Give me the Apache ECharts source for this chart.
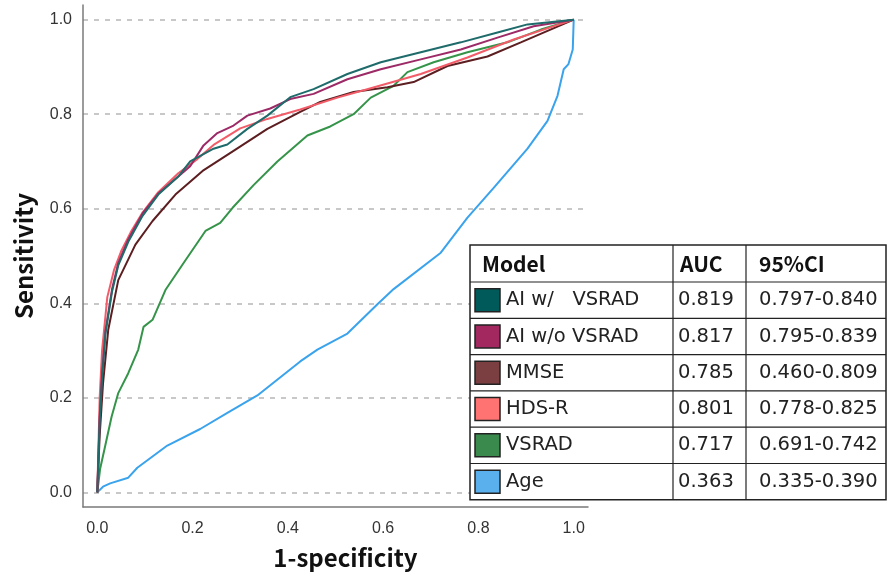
<!DOCTYPE html>
<html>
<head>
<meta charset="UTF-8">
<title>ROC</title>
<script src="https://cdn.jsdelivr.net/npm/echarts@6/dist/echarts.min.js"></script>
<style>
  * {margin: 0; padding: 0;}
  body {background: #fff;}
</style>
</head>
<body>
<div id="chart" style="width:887px;height:575px"></div>
<script type="text/javascript">
// ROC curves
var aiWithX = [0, 0.005, 0.01, 0.017, 0.031, 0.044, 0.065, 0.095, 0.128, 0.17, 0.195, 0.244, 0.273, 0.315, 0.357, 0.405, 0.454, 0.525, 0.595, 0.679, 0.763, 0.84, 0.903, 1];
var aiWithY = [0, 0.15, 0.24, 0.335, 0.425, 0.48, 0.53, 0.585, 0.63, 0.668, 0.70, 0.727, 0.736, 0.769, 0.797, 0.836, 0.853, 0.885, 0.91, 0.931, 0.952, 0.973, 0.99, 1];

var aiWithoutX = [0, 0.005, 0.01, 0.017, 0.031, 0.044, 0.065, 0.095, 0.128, 0.17, 0.195, 0.223, 0.252, 0.286, 0.315, 0.363, 0.405, 0.454, 0.525, 0.595, 0.679, 0.763, 0.84, 0.916, 1];
var aiWithoutY = [0, 0.16, 0.25, 0.34, 0.43, 0.485, 0.535, 0.59, 0.632, 0.668, 0.69, 0.734, 0.76, 0.776, 0.797, 0.812, 0.832, 0.843, 0.874, 0.895, 0.916, 0.937, 0.962, 0.986, 1];

var mmseX = [0, 0.005, 0.012, 0.023, 0.044, 0.08, 0.116, 0.164, 0.221, 0.29, 0.357, 0.426, 0.468, 0.538, 0.609, 0.664, 0.735, 0.819, 0.889, 1];
var mmseY = [0, 0.12, 0.23, 0.344, 0.449, 0.524, 0.574, 0.63, 0.68, 0.725, 0.769, 0.805, 0.826, 0.847, 0.857, 0.868, 0.902, 0.922, 0.952, 1];

var hdsrX = [0, 0.005, 0.01, 0.021, 0.035, 0.05, 0.07, 0.095, 0.128, 0.17, 0.21, 0.244, 0.3, 0.357, 0.426, 0.504, 0.574, 0.679, 0.777, 0.874, 1];
var hdsrY = [0, 0.2, 0.3, 0.413, 0.47, 0.51, 0.55, 0.592, 0.635, 0.675, 0.705, 0.735, 0.77, 0.79, 0.81, 0.835, 0.855, 0.885, 0.92, 0.958, 1];

var vsradX = [0, 0.006, 0.017, 0.03, 0.044, 0.065, 0.086, 0.097, 0.116, 0.143, 0.179, 0.227, 0.258, 0.284, 0.328, 0.378, 0.441, 0.489, 0.538, 0.574, 0.622, 0.651, 0.706, 0.777, 0.861, 0.931, 1];
var vsradY = [0, 0.05, 0.1, 0.16, 0.21, 0.252, 0.302, 0.35, 0.365, 0.428, 0.482, 0.553, 0.57, 0.602, 0.65, 0.70, 0.755, 0.774, 0.8, 0.835, 0.86, 0.889, 0.91, 0.931, 0.952, 0.979, 1];

var ageX = [0, 0.012, 0.027, 0.065, 0.084, 0.147, 0.216, 0.273, 0.336, 0.426, 0.462, 0.525, 0.588, 0.622, 0.721, 0.777, 0.832, 0.903, 0.945, 0.966, 0.979, 0.989, 0.998, 1];
var ageY = [0, 0.012, 0.019, 0.031, 0.052, 0.099, 0.134, 0.168, 0.205, 0.277, 0.302, 0.336, 0.398, 0.430, 0.507, 0.581, 0.644, 0.727, 0.786, 0.839, 0.895, 0.906, 0.937, 1];

var tickValues = [0, 0.2, 0.4, 0.6, 0.8, 1.0];

// table
var models = ['AI w/   VSRAD', 'AI w/o VSRAD', 'MMSE', 'HDS-R', 'VSRAD', 'Age'];
var aucs = ['0.819', '0.817', '0.785', '0.801', '0.717', '0.363'];
var cis = ['0.797-0.840', '0.795-0.839', '0.460-0.809', '0.778-0.825', '0.691-0.742', '0.335-0.390'];

var lineColors = ['#1f6b6b', '#9c2a66', '#5c1e20', '#f25c68', '#35944a', '#3aa3ec'];
var swatchColors = ['#005a5a', '#a3285f', '#7b3f42', '#ff7373', '#3a8a4e', '#5ab0ec'];

function pairs(xs, ys) {
  var res = [];
  for (var i = 0; i < xs.length; i++) res.push([xs[i], ys[i]]);
  return res;
}

var curves = [
  {name: 'Age', data: pairs(ageX, ageY), color: lineColors[5]},
  {name: 'VSRAD', data: pairs(vsradX, vsradY), color: lineColors[4]},
  {name: 'MMSE', data: pairs(mmseX, mmseY), color: lineColors[2]},
  {name: 'HDS-R', data: pairs(hdsrX, hdsrY), color: lineColors[3]},
  {name: 'AI w/o VSRAD', data: pairs(aiWithoutX, aiWithoutY), color: lineColors[1]},
  {name: 'AI w/ VSRAD', data: pairs(aiWithX, aiWithY), color: lineColors[0]}
];

var series = curves.map(function (c) {
  return {
    name: c.name,
    type: 'line',
    data: c.data,
    showSymbol: false,
    lineStyle: {color: c.color, width: 2},
    itemStyle: {color: c.color}
  };
});

// table drawn as graphic
var tx = 470, ty = 245, tw = 416;
var colX = [470, 673, 746];
var rowH = 36.3, headH = 37;
var font = '"DejaVu Sans", sans-serif';
var titleFont = '"Noto Sans CJK JP", "Noto Sans", sans-serif';
var g = [];
g.push({type: 'rect', shape: {x: tx, y: ty, width: tw, height: headH + rowH * 6}, style: {fill: '#fff', stroke: '#222', lineWidth: 1.5}, z: 100});
for (var c = 1; c < colX.length; c++) {
  g.push({type: 'line', shape: {x1: colX[c], y1: ty, x2: colX[c], y2: ty + headH + rowH * 6}, style: {stroke: '#222', lineWidth: 1.2}, z: 101});
}
for (var r = 0; r < 6; r++) {
  var ly = ty + headH + rowH * r;
  g.push({type: 'line', shape: {x1: tx, y1: ly, x2: tx + tw, y2: ly}, style: {stroke: '#222', lineWidth: 1.2}, z: 101});
}
var heads = ['Model', 'AUC', '95%CI'];
var headX = [482, 680, 759];
for (var h = 0; h < 3; h++) {
  g.push({type: 'text', x: headX[h], y: ty + headH / 2 + 1, style: {text: heads[h], font: 'bold 21px ' + titleFont, fill: '#111', verticalAlign: 'middle'}, z: 102});
}
for (var i = 0; i < models.length; i++) {
  var cy = ty + headH + rowH * i + rowH / 2;
  g.push({type: 'rect', shape: {x: 475, y: cy - 11.5, width: 25, height: 23}, style: {fill: swatchColors[i], stroke: '#222', lineWidth: 1.5}, z: 102});
  g.push({type: 'text', x: 506, y: cy, style: {text: models[i], font: '19.5px ' + font, fill: '#222', verticalAlign: 'middle'}, z: 102});
  g.push({type: 'text', x: 678, y: cy, style: {text: aucs[i], font: '19.5px ' + font, fill: '#222', verticalAlign: 'middle'}, z: 102});
  g.push({type: 'text', x: 759, y: cy, style: {text: cis[i], font: '19.5px ' + font, fill: '#222', verticalAlign: 'middle'}, z: 102});
}

var chart = echarts.init(document.getElementById('chart'));
var option = {
  animation: false,
  backgroundColor: '#fff',
  grid: {left: 83, top: 5, width: 505, height: 507, containLabel: false},
  xAxis: {
    type: 'value',
    min: -0.03,
    max: 1.03,
    name: '1-specificity',
    nameLocation: 'middle',
    nameGap: 39,
    nameTextStyle: {fontFamily: titleFont, fontWeight: 'bold', fontSize: 24, color: '#111', padding: [0, 0, 0, 20]},
    axisLine: {onZero: false, lineStyle: {color: '#7a7a7a', width: 1.5}},
    axisTick: {show: false, customValues: tickValues},
    axisLabel: {customValues: tickValues, color: '#333', fontSize: 16, fontFamily: 'Liberation Sans', margin: 14,
      formatter: function (v) { return v.toFixed(1); }},
    splitLine: {show: false}
  },
  yAxis: {
    type: 'value',
    min: -0.031,
    max: 1.031,
    name: 'Sensitivity',
    nameLocation: 'middle',
    nameGap: 47,
    nameTextStyle: {fontFamily: titleFont, fontWeight: 'bold', fontSize: 24, color: '#111'},
    axisLine: {show: true, onZero: false, lineStyle: {color: '#7a7a7a', width: 1.5}},
    axisTick: {show: false, customValues: tickValues},
    axisLabel: {customValues: tickValues, color: '#333', fontSize: 16, fontFamily: 'Liberation Sans', margin: 11,
      formatter: function (v) { return v.toFixed(1); }},
    splitLine: {show: true, lineStyle: {color: '#c8c8c8', type: [5, 6], width: 2}}
  },
  series: series,
  graphic: g
};
chart.setOption(option);
</script>
</body>
</html>
